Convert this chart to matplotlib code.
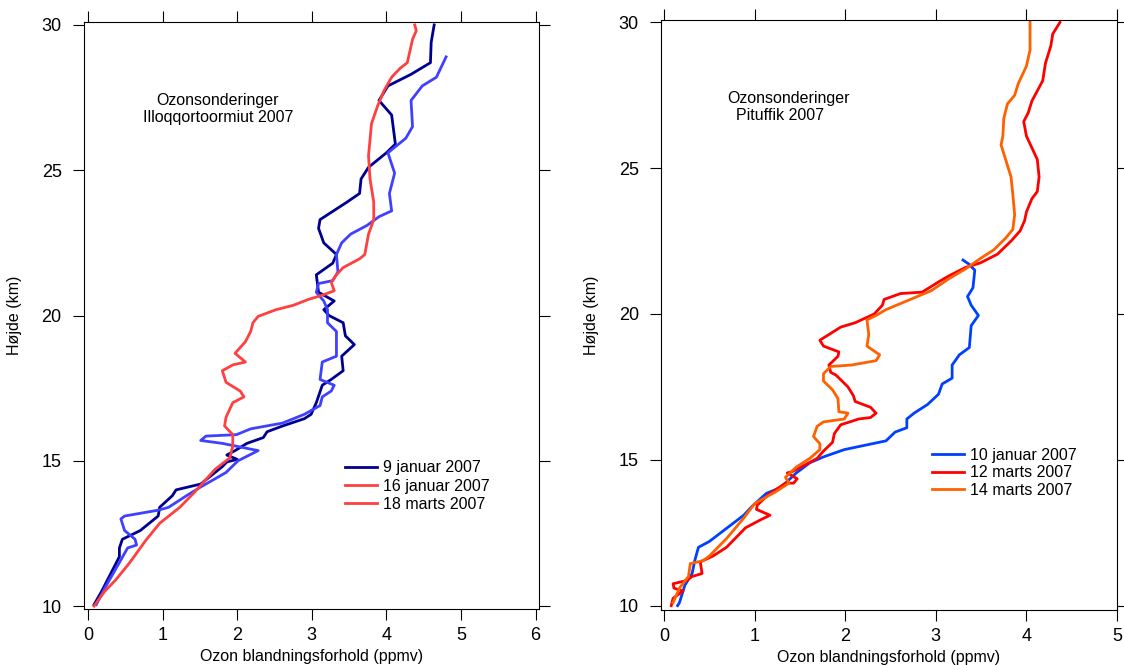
import matplotlib
matplotlib.use("Agg")
import matplotlib.pyplot as plt
from matplotlib.lines import Line2D

plt.rcParams['font.family'] = ['Liberation Sans', 'DejaVu Sans']

# Illoqqortoormiut 2007 -- profiles (ppmv, km)
ill_jan09_x = [0.08, 0.18, 0.32, 0.42, 0.42, 0.46, 0.70, 0.94, 0.96, 1.13, 1.18, 1.51, 1.80, 1.86, 2.00,
               1.86, 1.97, 2.13, 2.35, 2.40, 2.61, 2.90, 2.99, 3.06, 3.14, 3.26, 3.42, 3.40, 3.57, 3.45,
               3.42, 3.23, 3.16, 3.30, 3.09, 3.06, 3.28, 3.33, 3.16, 3.09, 3.11, 3.47, 3.64, 3.66, 3.76,
               4.00, 4.12, 4.07, 3.90, 4.02, 4.33, 4.59, 4.60, 4.64]
ill_jan09_y = [10.05, 10.5, 11.2, 11.7, 12.0, 12.3, 12.6, 13.1, 13.4, 13.8, 14.0, 14.2, 14.8, 14.96, 15.05,
               15.2, 15.35, 15.6, 15.8, 16.0, 16.2, 16.45, 16.6, 17.0, 17.6, 17.8, 18.1, 18.6, 19.0, 19.3,
               19.75, 20.0, 20.2, 20.5, 20.8, 21.4, 21.8, 22.1, 22.5, 23.0, 23.3, 23.9, 24.2, 24.7, 25.1,
               25.6, 25.9, 26.9, 27.4, 27.9, 28.3, 28.7, 29.4, 30.0]

ill_jan16_x = [0.11, 0.22, 0.42, 0.53, 0.65, 0.63, 0.49, 0.44, 0.49, 0.94, 1.08, 1.32, 1.51, 1.75, 1.85,
               2.01, 2.28, 1.80, 1.51, 1.58, 1.99, 2.18, 2.61, 2.90, 3.11, 3.14, 3.26, 3.30, 3.11, 3.14,
               3.33, 3.33, 3.21, 3.21, 3.16, 3.06, 3.09, 3.28, 3.35, 3.33, 3.40, 3.52, 3.74, 3.90, 4.07,
               4.04, 4.11, 4.02, 4.14, 4.26, 4.35, 4.33, 4.48, 4.67, 4.80]
ill_jan16_y = [10.05, 10.6, 11.5, 12.0, 12.1, 12.3, 12.6, 13.0, 13.1, 13.3, 13.4, 13.8, 14.1, 14.45, 14.6,
               15.0, 15.35, 15.6, 15.7, 15.85, 15.9, 16.1, 16.3, 16.6, 16.9, 17.2, 17.4, 17.6, 17.8, 18.4,
               18.6, 19.45, 19.75, 20.2, 20.5, 20.8, 21.1, 21.2, 21.5, 22.1, 22.5, 22.8, 23.1, 23.4, 23.6,
               24.2, 24.9, 25.6, 25.85, 26.1, 26.5, 27.4, 27.9, 28.2, 28.9]

ill_mar18_x = [0.08, 0.22, 0.37, 0.56, 0.70, 0.77, 0.96, 1.23, 1.42, 1.56, 1.70, 1.90, 1.94, 1.94, 1.83,
               1.85, 1.94, 2.09, 2.04, 1.85, 1.80, 1.94, 2.11, 1.97, 2.11, 2.18, 2.21, 2.28, 2.52, 2.75,
               2.95, 3.14, 3.30, 3.26, 3.33, 3.42, 3.64, 3.71, 3.76, 3.83, 3.83, 3.78, 3.76, 3.80, 3.88,
               3.97, 4.07, 4.18, 4.28, 4.35, 4.40, 4.38]
ill_mar18_y = [10.0, 10.5, 10.9, 11.5, 12.0, 12.25, 12.85, 13.4, 13.9, 14.3, 14.7, 15.1, 15.5, 15.9, 16.2,
               16.5, 17.0, 17.2, 17.4, 17.7, 18.1, 18.3, 18.4, 18.7, 19.1, 19.45, 19.75, 19.97, 20.2, 20.35,
               20.55, 20.7, 20.85, 21.15, 21.4, 21.65, 21.95, 22.1, 22.8, 23.3, 23.9, 24.7, 25.5, 26.6, 27.2,
               27.75, 28.2, 28.5, 28.7, 29.5, 29.8, 30.0]

# Pituffik 2007
pit_jan10_x = [0.15, 0.17, 0.23, 0.31, 0.34, 0.38, 0.50, 0.69, 0.88, 0.97, 1.13, 1.28, 1.34, 1.46, 1.61,
               1.76, 1.99, 2.22, 2.45, 2.55, 2.68, 2.68, 2.76, 2.91, 3.03, 3.07, 3.18, 3.18, 3.26, 3.37,
               3.39, 3.47, 3.39, 3.35, 3.41, 3.43, 3.37, 3.30]
pit_jan10_y = [10.0, 10.1, 10.7, 11.1, 11.55, 12.0, 12.2, 12.65, 13.1, 13.4, 13.85, 14.04, 14.2, 14.55, 14.9,
               15.1, 15.35, 15.5, 15.65, 15.95, 16.1, 16.4, 16.6, 16.9, 17.25, 17.6, 17.8, 18.25, 18.6, 18.85,
               19.6, 19.95, 20.3, 20.6, 20.9, 21.5, 21.7, 21.85]

pit_mar12_x = [0.08, 0.10, 0.21, 0.11, 0.10, 0.25, 0.31, 0.42, 0.40, 0.54, 0.69, 0.80, 0.90, 1.07, 1.17,
               1.02, 1.03, 1.15, 1.34, 1.43, 1.47, 1.36, 1.42, 1.57, 1.69, 1.76, 1.86, 1.88, 1.95, 2.15,
               2.28, 2.34, 2.28, 2.11, 2.09, 2.03, 1.90, 1.84, 1.82, 1.92, 1.93, 1.76, 1.72, 1.95, 2.11,
               2.32, 2.41, 2.43, 2.61, 2.85, 3.03, 3.14, 3.33, 3.49, 3.68, 3.83, 3.93, 3.98, 4.00, 4.06,
               4.12, 4.14, 4.12, 4.06, 4.00, 3.97, 4.02, 4.06, 4.18, 4.21, 4.27, 4.29, 4.37]
pit_mar12_y = [10.0, 10.25, 10.5, 10.6, 10.75, 10.86, 11.0, 11.1, 11.5, 11.7, 12.0, 12.35, 12.67, 12.95, 13.1,
               13.3, 13.45, 13.8, 14.2, 14.2, 14.35, 14.55, 14.6, 14.85, 15.05, 15.3, 15.6, 15.9, 16.2, 16.4,
               16.45, 16.6, 16.8, 17.0, 17.2, 17.5, 17.9, 18.0, 18.25, 18.55, 18.7, 18.9, 19.1, 19.55, 19.7,
               20.0, 20.3, 20.5, 20.7, 20.75, 21.1, 21.3, 21.6, 21.75, 22.05, 22.5, 22.85, 23.2, 23.5, 23.95,
               24.2, 24.7, 25.3, 25.7, 26.1, 26.6, 26.9, 27.3, 28.0, 28.6, 29.2, 29.6, 30.0]

pit_mar14_x = [0.10, 0.17, 0.27, 0.29, 0.43, 0.50, 0.69, 0.88, 1.00, 1.23, 1.38, 1.34, 1.46, 1.61, 1.72,
               1.72, 1.65, 1.69, 1.76, 1.99, 2.03, 1.93, 1.92, 1.86, 1.76, 1.76, 1.84, 2.07, 2.34, 2.38,
               2.24, 2.26, 2.24, 2.34, 2.45, 2.72, 2.95, 3.14, 3.33, 3.49, 3.64, 3.77, 3.85, 3.87, 3.85,
               3.83, 3.77, 3.72, 3.74, 3.75, 3.79, 3.87, 3.91, 4.00, 4.04, 4.04]
pit_mar14_y = [10.1, 10.6, 11.0, 11.44, 11.54, 11.7, 12.3, 13.0, 13.5, 13.9, 14.2, 14.4, 14.75, 15.05, 15.35,
               15.55, 15.8, 16.15, 16.3, 16.4, 16.6, 16.65, 17.1, 17.4, 17.7, 17.95, 18.2, 18.25, 18.4, 18.6,
               18.9, 19.3, 19.8, 19.95, 20.15, 20.5, 20.8, 21.2, 21.55, 21.9, 22.2, 22.6, 22.9, 23.4, 24.1,
               24.7, 25.3, 25.8, 26.1, 26.7, 27.2, 27.5, 27.9, 28.5, 29.05, 30.0]

left_labels = ['9 januar 2007', '16 januar 2007', '18 marts 2007']
left_legend_colors = ['#000090', '#ff4040', '#ff4040']
right_labels = ['10 januar 2007', '12 marts 2007', '14 marts 2007']
right_colors = ['#0040ff', '#ff0000', '#ff6000']

fig = plt.figure(figsize=(11.24, 6.65), dpi=100)
ax1 = fig.add_axes([0.0747, 0.0842, 0.4048, 0.8827])
ax2 = fig.add_axes([0.5881, 0.0827, 0.4057, 0.8872])

lw = 2.0
ax1.plot(ill_jan09_x, ill_jan09_y, color='#000090', lw=lw)
ax1.plot(ill_jan16_x, ill_jan16_y, color='#4040ff', lw=lw)
ax1.plot(ill_mar18_x, ill_mar18_y, color='#ff4040', lw=lw)

ax2.plot(pit_jan10_x, pit_jan10_y, color=right_colors[0], lw=lw)
ax2.plot(pit_mar12_x, pit_mar12_y, color=right_colors[1], lw=lw)
ax2.plot(pit_mar14_x, pit_mar14_y, color=right_colors[2], lw=lw)

ax1.set_xlim(-0.055, 6.045)
ax1.set_ylim(9.9, 30.1)
ax1.set_xticks(range(0, 7))
ax2.set_xlim(-0.033, 5.0)
ax2.set_ylim(9.85, 30.08)
ax2.set_xticks(range(0, 6))

for ax in (ax1, ax2):
    ax.set_yticks([10, 15, 20, 25, 30])
    ax.tick_params(direction='out', length=8, width=0.8, labelsize=13,
                   top=True, right=True, labeltop=False, labelright=False)
    ax.tick_params(axis='y', pad=8)
    ax.tick_params(axis='x', pad=5)
    for s in ax.spines.values():
        s.set_linewidth(0.8)
    ax.set_ylabel('Højde (km)', fontsize=11.5)
    ax.set_xlabel('Ozon blandningsforhold (ppmv)', fontsize=11.5)
    ax.yaxis.set_label_coords(-0.137, 0.5)
    ax.xaxis.set_label_coords(0.5, -0.068)

ax1.text(1.74, 27.4, 'Ozonsonderinger', fontsize=11.5, ha='center', va='center')
ax1.text(1.74, 26.8, 'Illoqqortoormiut 2007', fontsize=11.5, ha='center', va='center')
ax2.text(0.70, 27.4, 'Ozonsonderinger', fontsize=11.5, ha='left', va='center')
ax2.text(0.80, 26.8, 'Pituffik 2007', fontsize=11.5, ha='left', va='center')

h1 = [Line2D([], [], color=c, lw=lw) for c in left_legend_colors]
ax1.legend(h1, left_labels, loc='upper left', bbox_to_anchor=(0.574, 0.253), frameon=False,
           fontsize=11.5, borderpad=0, borderaxespad=0, handlelength=2.0, handletextpad=0.4,
           labelspacing=0.2)
h2 = [Line2D([], [], color=c, lw=lw) for c in right_colors]
ax2.legend(h2, right_labels, loc='upper left', bbox_to_anchor=(0.594, 0.275), frameon=False,
           fontsize=11.5, borderpad=0, borderaxespad=0, handlelength=2.0, handletextpad=0.4,
           labelspacing=0.15)

fig.savefig('out.png', dpi=100)
